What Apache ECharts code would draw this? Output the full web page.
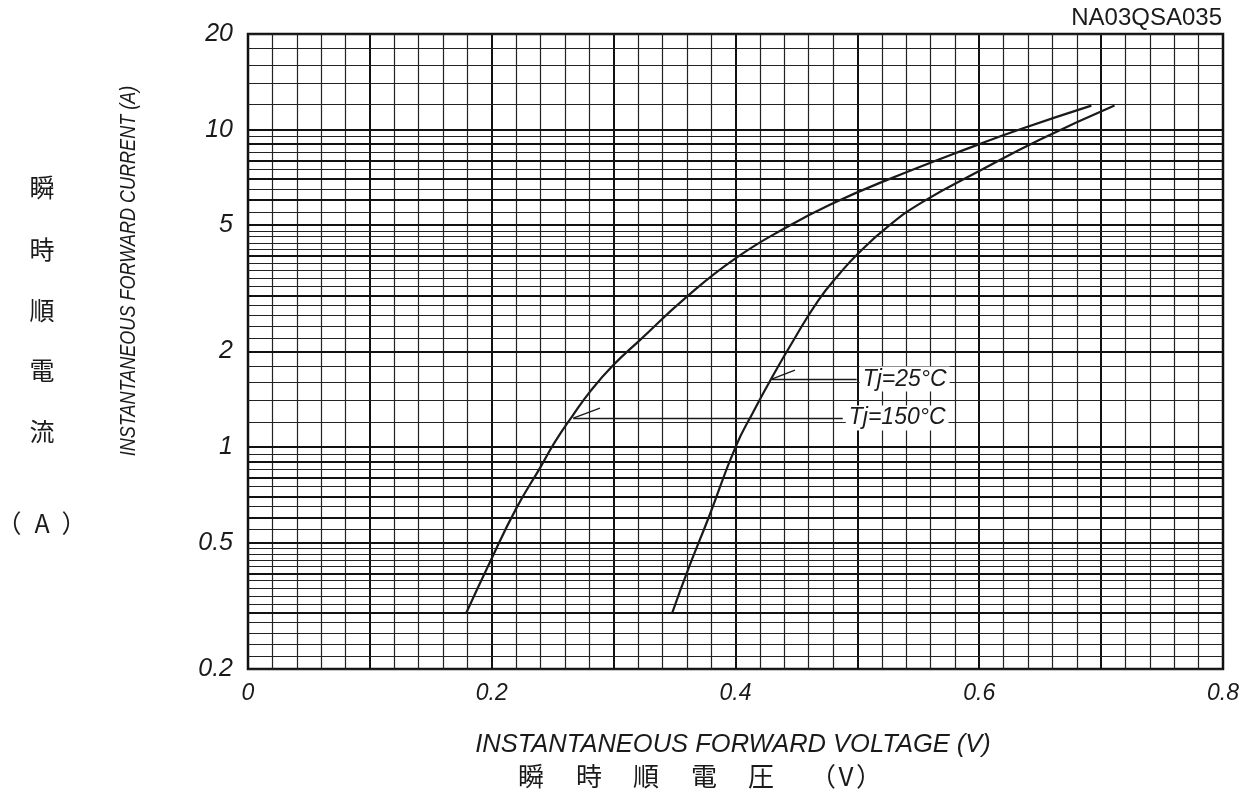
<!DOCTYPE html>
<html>
<head>
<meta charset="utf-8">
<script src="https://cdn.jsdelivr.net/npm/echarts@6/dist/echarts.min.js"></script>
<style>
html,body{margin:0;padding:0;background:#fff;}
#chart{width:1251px;height:800px;}
</style>
</head>
<body>
<div id="chart"></div>
<script>
// ---- data ----
const tj150V = [0.179, 0.198, 0.220, 0.240, 0.252, 0.266, 0.281, 0.299, 0.322, 0.359, 0.400, 0.443, 0.481, 0.524, 0.600, 0.636, 0.692];
const tj150I = [0.30, 0.43, 0.64, 0.865, 1.04, 1.25, 1.50, 1.80, 2.18, 2.95, 3.93, 4.95, 5.88, 6.93, 9.0, 10.1, 11.9];
const tj25V = [0.348, 0.362, 0.378, 0.400, 0.415, 0.430, 0.447, 0.468, 0.485, 0.500, 0.525, 0.554, 0.600, 0.650, 0.711];
const tj25I = [0.30, 0.42, 0.60, 1.00, 1.30, 1.66, 2.15, 2.90, 3.50, 4.05, 4.95, 5.93, 7.40, 9.30, 11.9];

const yTickValues = [0.2, 0.5, 1, 2, 5, 10, 20];
const yTickLabels = ['0.2', '0.5', '1', '2', '5', '10', '20'];
const xTickValues = [0, 0.2, 0.4, 0.6, 0.8];
const xTickLabels = ['0', '0.2', '0.4', '0.6', '0.8'];

// log-paper horizontal rulings: [from, to, step]
const yGridRanges = [[0.2, 0.5, 0.02], [0.5, 1, 0.05], [1, 5, 0.2], [5, 10, 0.5], [10, 20, 2]];
const yThick = [0.3, 0.4, 0.5, 0.6, 0.7, 0.8, 0.9, 1, 2, 3, 4, 5, 6, 7, 8, 9, 10];

// annotation leaders
const annot25 = {label: 'Tj=25°C', diag: [[0.4297, 1.637], [0.4488, 1.748]], horiz: [[0.4297, 1.637], [0.4994, 1.637]]};
const annot150 = {label: 'Tj=150°C', diag: [[0.2669, 1.234], [0.2888, 1.327]], horiz: [[0.2669, 1.234], [0.4880, 1.234]]};

// ---- build ----
const yGrid = [];
yGridRanges.forEach(function (r) {
  const n = Math.round((r[1] - r[0]) / r[2]);
  for (let i = 0; i < n; i++) yGrid.push(+(r[0] + i * r[2]).toFixed(4));
});
yGrid.push(20);
function isThick(v) { return yThick.some(function (t) { return Math.abs(t - v) < 1e-6; }); }

const ink = '#1a1a1a';
const font = 'Liberation Sans, Arial, sans-serif';
const cjk = '"Noto Sans CJK JP", sans-serif';

function annotLines(a) {
  return [
    [{coord: a.diag[0]}, {coord: a.diag[1]}],
    [{coord: a.horiz[0]}, {coord: a.horiz[1], label: {
      show: true, position: 'end', formatter: a.label, distance: 3,
      fontFamily: font, fontStyle: 'italic', fontSize: 23, color: ink,
      backgroundColor: '#fff', padding: [1, 3]
    }}]
  ];
}

function ct(text, x, y, size) {
  return {type: 'text', x: x, y: y, style: {text: text, font: size + 'px ' + cjk, fill: ink, align: 'center', verticalAlign: 'middle'}};
}

const chart = echarts.init(document.getElementById('chart'));
chart.setOption({
  animation: false,
  backgroundColor: '#fff',
  grid: {left: 248, right: 28, top: 34, bottom: 131, show: true, borderColor: '#111', borderWidth: 2.5, backgroundColor: 'transparent'},
  xAxis: {
    type: 'value', min: 0, max: 0.8, interval: 0.1,
    axisLine: {show: false}, axisTick: {show: false},
    axisLabel: {
      margin: 13, fontFamily: font, fontStyle: 'italic', fontSize: 23, color: ink,
      formatter: function (v) {
        const i = xTickValues.findIndex(function (t) { return Math.abs(t - v) < 1e-6; });
        return i >= 0 ? xTickLabels[i] : '';
      }
    },
    splitLine: {show: true, lineStyle: {color: '#111', width: 2}},
    minorTick: {show: false, splitNumber: 5},
    minorSplitLine: {show: true, lineStyle: {color: '#222', width: 1.2}}
  },
  yAxis: {
    type: 'log', logBase: 10, min: 0.2, max: 20,
    axisLine: {show: false}, axisTick: {show: false},
    axisLabel: {show: false}, splitLine: {show: false}
  },
  series: [
    {
      name: 'grid', type: 'line', data: [], silent: true, z: 1,
      markLine: {
        silent: true, symbol: ['none', 'none'], animation: false,
        label: {show: false},
        data: yGrid.map(function (v) {
          return {yAxis: v, lineStyle: {type: 'solid', color: isThick(v) ? '#111' : '#222', width: isThick(v) ? 2 : 1.2}};
        })
      }
    },
    {
      name: 'ticks', type: 'line', data: [], silent: true, z: 1,
      markLine: {
        silent: true, symbol: ['none', 'none'], animation: false,
        lineStyle: {width: 1, color: 'rgba(0,0,0,0)', type: 'solid'},
        label: {show: true, position: 'start', distance: 15, fontFamily: font, fontStyle: 'italic', fontSize: 25, color: ink},
        data: yTickValues.map(function (v, i) {
          return {yAxis: v, label: {formatter: yTickLabels[i]}};
        })
      }
    },
    {
      name: 'Tj=150°C', type: 'line', z: 5,
      data: tj150V.map(function (x, i) { return [x, tj150I[i]]; }),
      smooth: 0.5, symbol: 'none',
      lineStyle: {color: ink, width: 2.2},
      markLine: {
        silent: true, symbol: ['none', 'none'], animation: false,
        lineStyle: {type: 'solid', color: ink, width: 1.4},
        label: {show: false},
        data: annotLines(annot150)
      }
    },
    {
      name: 'Tj=25°C', type: 'line', z: 5,
      data: tj25V.map(function (x, i) { return [x, tj25I[i]]; }),
      smooth: 0.5, symbol: 'none',
      lineStyle: {color: ink, width: 2.2},
      markLine: {
        silent: true, symbol: ['none', 'none'], animation: false,
        lineStyle: {type: 'solid', color: ink, width: 1.4},
        label: {show: false},
        data: annotLines(annot25)
      }
    }
  ],
  graphic: [
    {type: 'text', right: 29, top: 6, style: {text: 'NA03QSA035', font: '24px ' + font, fill: ink}},
    {type: 'text', x: 129, y: 271, rotation: Math.PI / 2, scaleX: 0.82, style: {text: 'INSTANTANEOUS FORWARD CURRENT (A)', font: 'italic 22px ' + font, fill: ink, align: 'center', verticalAlign: 'middle'}},
    {type: 'text', x: 733, y: 745, style: {text: 'INSTANTANEOUS FORWARD VOLTAGE (V)', font: 'italic 25.5px ' + font, fill: ink, align: 'center', verticalAlign: 'middle'}},
    ct('瞬', 42, 187, 25), ct('時', 42, 249, 25), ct('順', 42, 310, 25), ct('電', 42, 370, 25), ct('流', 42, 431, 25),
    ct('（', 9, 523, 25), ct('A', 42, 523, 25), ct('）', 74, 523, 25),
    ct('瞬', 531, 776, 26), ct('時', 589, 776, 26), ct('順', 646, 776, 26), ct('電', 704, 776, 26), ct('圧', 761, 776, 26),
    ct('（', 823, 776, 26), ct('V', 846, 776, 26), ct('）', 869, 776, 26)
  ]
});
</script>
</body>
</html>
